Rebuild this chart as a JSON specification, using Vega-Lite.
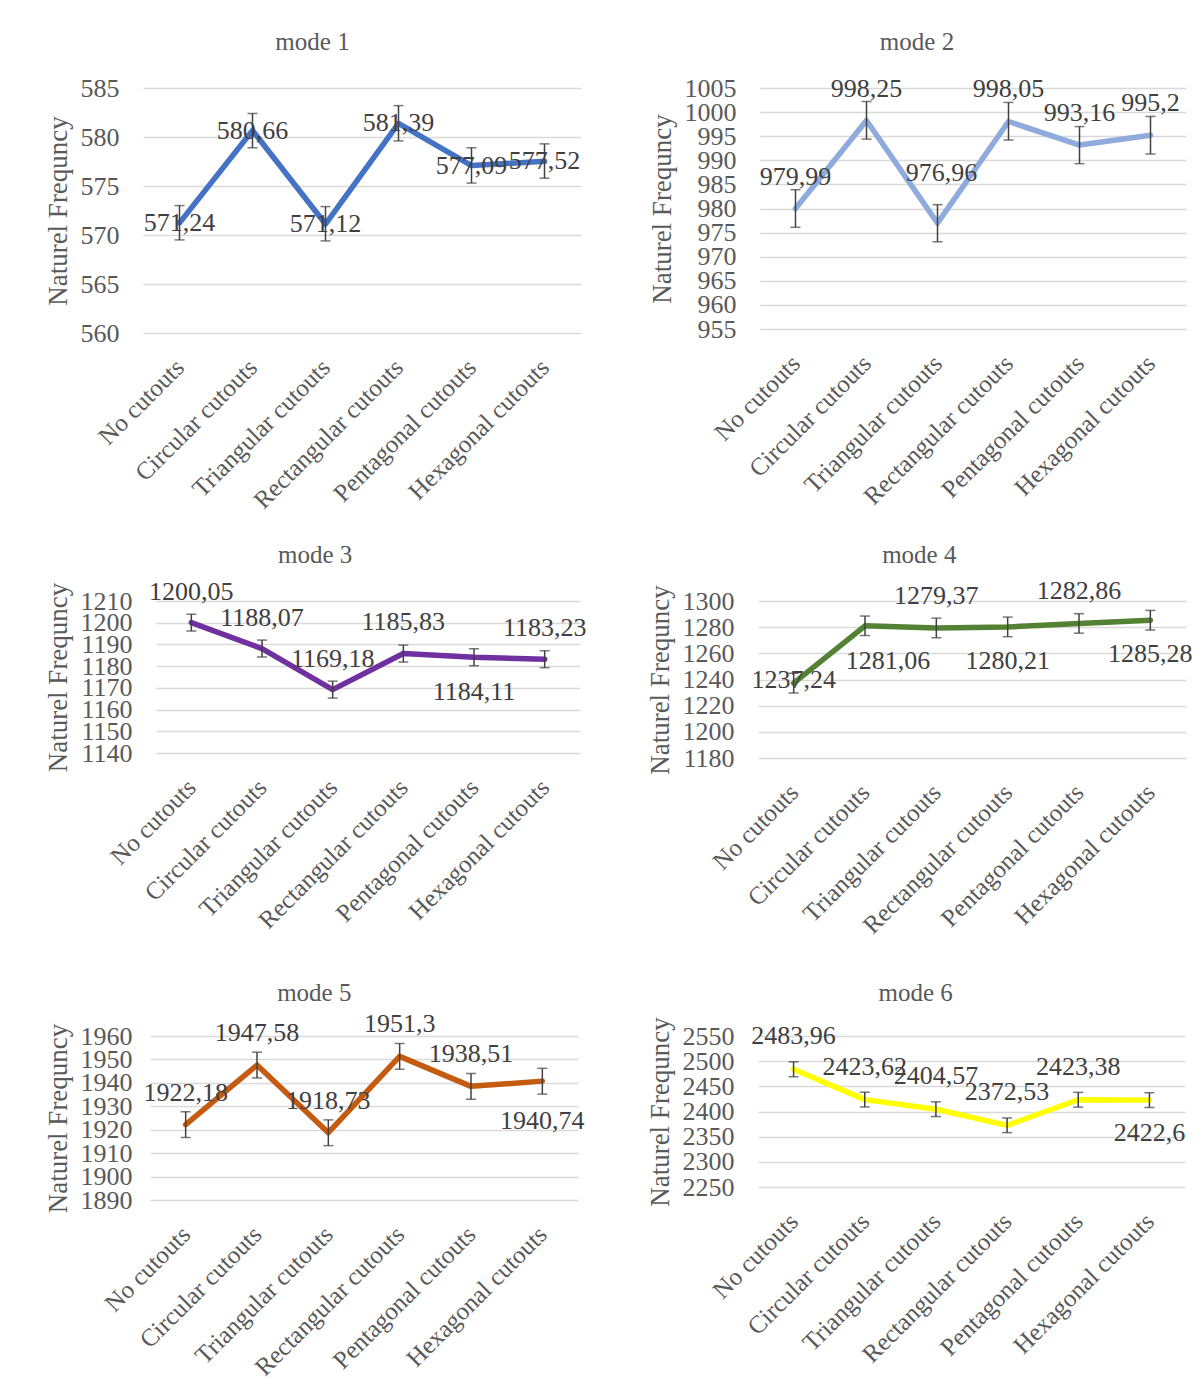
{
  "$schema": "https://vega.github.io/schema/vega-lite/v6.json",
  "background": "white",
  "padding": {"left": 43, "top": 30, "right": 5, "bottom": 5},
  "config": {
    "font": "Liberation Serif",
    "view": {"stroke": null},
    "locale": {"number": {"decimal": ",", "thousands": ".", "grouping": [3], "currency": ["", ""]}},
    "axis": {"labelFont": "Liberation Serif", "titleFont": "Liberation Serif", "labelColor": "#595959", "titleColor": "#595959", "labelFontSize": 26, "titleFontSize": 27, "titleFontWeight": "normal", "domain": false, "ticks": false, "tickSize": 0, "gridColor": "#D9D9D9", "gridWidth": 1.5, "labelOverlap": false},
    "axisX": {"grid": false, "labelAngle": -45, "labelAlign": "right", "labelBaseline": "middle", "labelPadding": 30, "labelFontSize": 25, "labelLimit": 400, "title": null},
    "axisY": {"labelPadding": 24, "titlePadding": 8, "labelOverlap": false, "tickCount": 30},
    "title": {"font": "Liberation Serif", "fontSize": 25, "fontWeight": "normal", "color": "#595959", "baseline": "alphabetic", "offset": 20, "frame": "bounds", "anchor": "middle"},
    "text": {"font": "Liberation Serif", "fontSize": 26, "color": "#404040", "baseline": "middle"}
  },
  "data": {"values": [
    {"mode": 1, "shape": "No cutouts", "freq": 571.24, "lo": 569.5, "hi": 573.0},
    {"mode": 1, "shape": "Circular cutouts", "freq": 580.66, "lo": 578.9, "hi": 582.4},
    {"mode": 1, "shape": "Triangular cutouts", "freq": 571.12, "lo": 569.4, "hi": 572.9},
    {"mode": 1, "shape": "Rectangular cutouts", "freq": 581.39, "lo": 579.6, "hi": 583.2},
    {"mode": 1, "shape": "Pentagonal cutouts", "freq": 577.09, "lo": 575.3, "hi": 578.9},
    {"mode": 1, "shape": "Hexagonal cutouts", "freq": 577.52, "lo": 575.8, "hi": 579.3},
    {"mode": 2, "shape": "No cutouts", "freq": 979.99, "lo": 976.1, "hi": 983.9},
    {"mode": 2, "shape": "Circular cutouts", "freq": 998.25, "lo": 994.4, "hi": 1002.2},
    {"mode": 2, "shape": "Triangular cutouts", "freq": 976.96, "lo": 973.1, "hi": 980.8},
    {"mode": 2, "shape": "Rectangular cutouts", "freq": 998.05, "lo": 994.2, "hi": 1002.0},
    {"mode": 2, "shape": "Pentagonal cutouts", "freq": 993.16, "lo": 989.3, "hi": 997.0},
    {"mode": 2, "shape": "Hexagonal cutouts", "freq": 995.2, "lo": 991.3, "hi": 999.1},
    {"mode": 3, "shape": "No cutouts", "freq": 1200.05, "lo": 1196.2, "hi": 1203.9},
    {"mode": 3, "shape": "Circular cutouts", "freq": 1188.07, "lo": 1184.2, "hi": 1192.0},
    {"mode": 3, "shape": "Triangular cutouts", "freq": 1169.18, "lo": 1165.3, "hi": 1173.1},
    {"mode": 3, "shape": "Rectangular cutouts", "freq": 1185.83, "lo": 1181.9, "hi": 1189.7},
    {"mode": 3, "shape": "Pentagonal cutouts", "freq": 1184.11, "lo": 1180.2, "hi": 1188.0},
    {"mode": 3, "shape": "Hexagonal cutouts", "freq": 1183.23, "lo": 1179.3, "hi": 1187.1},
    {"mode": 4, "shape": "No cutouts", "freq": 1237.24, "lo": 1229.7, "hi": 1244.8},
    {"mode": 4, "shape": "Circular cutouts", "freq": 1281.06, "lo": 1273.6, "hi": 1288.5},
    {"mode": 4, "shape": "Triangular cutouts", "freq": 1279.37, "lo": 1271.9, "hi": 1286.9},
    {"mode": 4, "shape": "Rectangular cutouts", "freq": 1280.21, "lo": 1272.7, "hi": 1287.7},
    {"mode": 4, "shape": "Pentagonal cutouts", "freq": 1282.86, "lo": 1275.4, "hi": 1290.3},
    {"mode": 4, "shape": "Hexagonal cutouts", "freq": 1285.28, "lo": 1277.8, "hi": 1292.8},
    {"mode": 5, "shape": "No cutouts", "freq": 1922.18, "lo": 1916.7, "hi": 1927.7},
    {"mode": 5, "shape": "Circular cutouts", "freq": 1947.58, "lo": 1942.1, "hi": 1953.1},
    {"mode": 5, "shape": "Triangular cutouts", "freq": 1918.73, "lo": 1913.2, "hi": 1924.2},
    {"mode": 5, "shape": "Rectangular cutouts", "freq": 1951.3, "lo": 1945.8, "hi": 1956.8},
    {"mode": 5, "shape": "Pentagonal cutouts", "freq": 1938.51, "lo": 1933.0, "hi": 1944.0},
    {"mode": 5, "shape": "Hexagonal cutouts", "freq": 1940.74, "lo": 1935.2, "hi": 1946.2},
    {"mode": 6, "shape": "No cutouts", "freq": 2483.96, "lo": 2469.0, "hi": 2499.0},
    {"mode": 6, "shape": "Circular cutouts", "freq": 2423.62, "lo": 2409.0, "hi": 2438.3},
    {"mode": 6, "shape": "Triangular cutouts", "freq": 2404.57, "lo": 2390.0, "hi": 2419.2},
    {"mode": 6, "shape": "Rectangular cutouts", "freq": 2372.53, "lo": 2358.0, "hi": 2387.2},
    {"mode": 6, "shape": "Pentagonal cutouts", "freq": 2423.38, "lo": 2408.7, "hi": 2438.0},
    {"mode": 6, "shape": "Hexagonal cutouts", "freq": 2422.6, "lo": 2408.0, "hi": 2437.3}
  ]},
  "columns": 1,
  "align": "none",
  "spacing": 28,
  "concat": [
    {
      "spacing": 0,
      "hconcat": [
        {"width": 1, "height": 1, "data": {"values": []}, "mark": {"type": "point", "opacity": 0}},
        {
          "spacing": 67,
          "hconcat": [
            {
              "width": 438, "height": 245,
              "title": {"text": "mode 1", "offset": 20},
              "transform": [{"filter": "datum.mode == 1"}],
              "encoding": {"x": {"field": "shape", "type": "nominal", "sort": null, "scale": {"type": "point", "padding": 0.5}}},
              "layer": [
                {"mark": {"type": "line", "color": "#4472C4", "strokeWidth": 5.5, "strokeJoin": "round", "strokeCap": "round"},
                 "encoding": {"y": {"field": "freq", "type": "quantitative", "title": "Naturel Frequncy", "scale": {"domain": [560, 585], "nice": false, "zero": false}, "axis": {"values": [560, 565, 570, 575, 580, 585], "format": "d", "labelOverlap": false, "tickCount": 30}}}},
                {"mark": {"type": "rule", "color": "#404040", "strokeWidth": 1.5}, "encoding": {"y": {"field": "lo", "type": "quantitative", "title": "Naturel Frequncy"}, "y2": {"field": "hi"}}},
                {"mark": {"type": "tick", "color": "#404040", "size": 10, "thickness": 1.5}, "encoding": {"y": {"field": "lo", "type": "quantitative", "title": "Naturel Frequncy"}}},
                {"mark": {"type": "tick", "color": "#404040", "size": 10, "thickness": 1.5}, "encoding": {"y": {"field": "hi", "type": "quantitative", "title": "Naturel Frequncy"}}},
                {"mark": {"type": "text"}, "encoding": {"y": {"field": "freq", "type": "quantitative", "title": "Naturel Frequncy"}, "text": {"field": "freq", "type": "quantitative", "format": "~f"}}}
              ]
            },
            {
              "width": 426, "height": 241,
              "title": {"text": "mode 2", "offset": 20},
              "transform": [{"filter": "datum.mode == 2"}],
              "encoding": {"x": {"field": "shape", "type": "nominal", "sort": null, "scale": {"type": "point", "padding": 0.5}}},
              "layer": [
                {"mark": {"type": "line", "color": "#8FAADC", "strokeWidth": 5.5, "strokeJoin": "round", "strokeCap": "round"},
                 "encoding": {"y": {"field": "freq", "type": "quantitative", "title": "Naturel Frequncy", "scale": {"domain": [955, 1005], "nice": false, "zero": false}, "axis": {"values": [955, 960, 965, 970, 975, 980, 985, 990, 995, 1000, 1005], "format": "d", "labelOverlap": false, "tickCount": 30}}}},
                {"mark": {"type": "rule", "color": "#404040", "strokeWidth": 1.5}, "encoding": {"y": {"field": "lo", "type": "quantitative", "title": "Naturel Frequncy"}, "y2": {"field": "hi"}}},
                {"mark": {"type": "tick", "color": "#404040", "size": 10, "thickness": 1.5}, "encoding": {"y": {"field": "lo", "type": "quantitative", "title": "Naturel Frequncy"}}},
                {"mark": {"type": "tick", "color": "#404040", "size": 10, "thickness": 1.5}, "encoding": {"y": {"field": "hi", "type": "quantitative", "title": "Naturel Frequncy"}}},
                {"transform": [{"filter": "datum.shape != 'Triangular cutouts'"}], "mark": {"type": "text", "dy": -32}, "encoding": {"y": {"field": "freq", "type": "quantitative", "title": "Naturel Frequncy"}, "text": {"field": "freq", "type": "quantitative", "format": "~f"}}},
                {"transform": [{"filter": "datum.shape == 'Triangular cutouts'"}], "mark": {"type": "text", "dy": -50, "dx": 4}, "encoding": {"y": {"field": "freq", "type": "quantitative", "title": "Naturel Frequncy"}, "text": {"field": "freq", "type": "quantitative", "format": "~f"}}}
              ]
            }
          ]
        }
      ]
    },
    {
      "columns": 1,
      "align": "none",
      "spacing": 41,
      "concat": [
        {
          "spacing": 0,
          "hconcat": [
            {"width": 1, "height": 1, "data": {"values": []}, "mark": {"type": "point", "opacity": 0}},
            {
              "spacing": 59,
              "hconcat": [
                {
                  "width": 424, "height": 152,
                  "title": {"text": "mode 3", "offset": 11},
                  "transform": [{"filter": "datum.mode == 3"}],
                  "encoding": {"x": {"field": "shape", "type": "nominal", "sort": null, "scale": {"type": "point", "padding": 0.5}}},
                  "layer": [
                    {"mark": {"type": "line", "color": "#7030A0", "strokeWidth": 5.5, "strokeJoin": "round", "strokeCap": "round"},
                     "encoding": {"y": {"field": "freq", "type": "quantitative", "title": "Naturel Frequncy", "scale": {"domain": [1140, 1210], "nice": false, "zero": false}, "axis": {"values": [1140, 1150, 1160, 1170, 1180, 1190, 1200, 1210], "format": "d", "labelOverlap": false, "tickCount": 30}}}},
                    {"mark": {"type": "rule", "color": "#404040", "strokeWidth": 1.5}, "encoding": {"y": {"field": "lo", "type": "quantitative", "title": "Naturel Frequncy"}, "y2": {"field": "hi"}}},
                    {"mark": {"type": "tick", "color": "#404040", "size": 10, "thickness": 1.5}, "encoding": {"y": {"field": "lo", "type": "quantitative", "title": "Naturel Frequncy"}}},
                    {"mark": {"type": "tick", "color": "#404040", "size": 10, "thickness": 1.5}, "encoding": {"y": {"field": "hi", "type": "quantitative", "title": "Naturel Frequncy"}}},
                    {"transform": [{"filter": "datum.shape != 'Pentagonal cutouts'"}], "mark": {"type": "text", "dy": -31}, "encoding": {"y": {"field": "freq", "type": "quantitative", "title": "Naturel Frequncy"}, "text": {"field": "freq", "type": "quantitative", "format": "~f"}}},
                    {"transform": [{"filter": "datum.shape == 'Pentagonal cutouts'"}], "mark": {"type": "text", "dy": 35}, "encoding": {"y": {"field": "freq", "type": "quantitative", "title": "Naturel Frequncy"}, "text": {"field": "freq", "type": "quantitative", "format": "~f"}}}
                  ]
                },
                {
                  "width": 428, "height": 157,
                  "title": {"text": "mode 4", "offset": 10},
                  "transform": [{"filter": "datum.mode == 4"}],
                  "encoding": {"x": {"field": "shape", "type": "nominal", "sort": null, "scale": {"type": "point", "padding": 0.5}}},
                  "layer": [
                    {"mark": {"type": "line", "color": "#548235", "strokeWidth": 5.5, "strokeJoin": "round", "strokeCap": "round"},
                     "encoding": {"y": {"field": "freq", "type": "quantitative", "title": "Naturel Frequncy", "scale": {"domain": [1180, 1300], "nice": false, "zero": false}, "axis": {"values": [1180, 1200, 1220, 1240, 1260, 1280, 1300], "format": "d", "labelOverlap": false, "tickCount": 30}}}},
                    {"mark": {"type": "rule", "color": "#404040", "strokeWidth": 1.5}, "encoding": {"y": {"field": "lo", "type": "quantitative", "title": "Naturel Frequncy"}, "y2": {"field": "hi"}}},
                    {"mark": {"type": "tick", "color": "#404040", "size": 10, "thickness": 1.5}, "encoding": {"y": {"field": "lo", "type": "quantitative", "title": "Naturel Frequncy"}}},
                    {"mark": {"type": "tick", "color": "#404040", "size": 10, "thickness": 1.5}, "encoding": {"y": {"field": "hi", "type": "quantitative", "title": "Naturel Frequncy"}}},
                    {"transform": [{"filter": "datum.shape == 'No cutouts'"}], "mark": {"type": "text", "dy": -3}, "encoding": {"y": {"field": "freq", "type": "quantitative", "title": "Naturel Frequncy"}, "text": {"field": "freq", "type": "quantitative", "format": "~f"}}},
                    {"transform": [{"filter": "datum.shape == 'Circular cutouts'"}], "mark": {"type": "text", "dy": 35, "dx": 23}, "encoding": {"y": {"field": "freq", "type": "quantitative", "title": "Naturel Frequncy"}, "text": {"field": "freq", "type": "quantitative", "format": "~f"}}},
                    {"transform": [{"filter": "datum.shape == 'Triangular cutouts' || datum.shape == 'Pentagonal cutouts'"}], "mark": {"type": "text", "dy": -32}, "encoding": {"y": {"field": "freq", "type": "quantitative", "title": "Naturel Frequncy"}, "text": {"field": "freq", "type": "quantitative", "format": "~f"}}},
                    {"transform": [{"filter": "datum.shape == 'Rectangular cutouts' || datum.shape == 'Hexagonal cutouts'"}], "mark": {"type": "text", "dy": 34}, "encoding": {"y": {"field": "freq", "type": "quantitative", "title": "Naturel Frequncy"}, "text": {"field": "freq", "type": "quantitative", "format": "~f"}}}
                  ]
                }
              ]
            }
          ]
        },
        {
          "spacing": 0,
          "hconcat": [
            {"width": 1, "height": 1, "data": {"values": []}, "mark": {"type": "point", "opacity": 0}},
            {
              "spacing": 61,
              "hconcat": [
                {
                  "width": 428, "height": 164,
                  "title": {"text": "mode 5", "offset": 5.4},
                  "transform": [{"filter": "datum.mode == 5"}],
                  "encoding": {"x": {"field": "shape", "type": "nominal", "sort": null, "scale": {"type": "point", "padding": 0.5}}},
                  "layer": [
                    {"mark": {"type": "line", "color": "#C55A11", "strokeWidth": 5.5, "strokeJoin": "round", "strokeCap": "round"},
                     "encoding": {"y": {"field": "freq", "type": "quantitative", "title": "Naturel Frequncy", "scale": {"domain": [1890, 1960], "nice": false, "zero": false}, "axis": {"values": [1890, 1900, 1910, 1920, 1930, 1940, 1950, 1960], "format": "d", "labelPadding": 18, "labelOverlap": false, "tickCount": 30}}}},
                    {"mark": {"type": "rule", "color": "#404040", "strokeWidth": 1.5}, "encoding": {"y": {"field": "lo", "type": "quantitative", "title": "Naturel Frequncy"}, "y2": {"field": "hi"}}},
                    {"mark": {"type": "tick", "color": "#404040", "size": 10, "thickness": 1.5}, "encoding": {"y": {"field": "lo", "type": "quantitative", "title": "Naturel Frequncy"}}},
                    {"mark": {"type": "tick", "color": "#404040", "size": 10, "thickness": 1.5}, "encoding": {"y": {"field": "hi", "type": "quantitative", "title": "Naturel Frequncy"}}},
                    {"transform": [{"filter": "datum.shape != 'Hexagonal cutouts'"}], "mark": {"type": "text", "dy": -32}, "encoding": {"y": {"field": "freq", "type": "quantitative", "title": "Naturel Frequncy"}, "text": {"field": "freq", "type": "quantitative", "format": "~f"}}},
                    {"transform": [{"filter": "datum.shape == 'Hexagonal cutouts'"}], "mark": {"type": "text", "dy": 40}, "encoding": {"y": {"field": "freq", "type": "quantitative", "title": "Naturel Frequncy"}, "text": {"field": "freq", "type": "quantitative", "format": "~f"}}}
                  ]
                },
                {
                  "width": 427, "height": 151,
                  "title": {"text": "mode 6", "offset": 10.4},
                  "transform": [{"filter": "datum.mode == 6"}],
                  "encoding": {"x": {"field": "shape", "type": "nominal", "sort": null, "scale": {"type": "point", "padding": 0.5}}},
                  "layer": [
                    {"mark": {"type": "line", "color": "#FFFF00", "strokeWidth": 5.5, "strokeJoin": "round", "strokeCap": "round"},
                     "encoding": {"y": {"field": "freq", "type": "quantitative", "title": "Naturel Frequncy", "scale": {"domain": [2250, 2550], "nice": false, "zero": false}, "axis": {"values": [2250, 2300, 2350, 2400, 2450, 2500, 2550], "format": "d", "labelOverlap": false, "tickCount": 30}}}},
                    {"mark": {"type": "rule", "color": "#404040", "strokeWidth": 1.5}, "encoding": {"y": {"field": "lo", "type": "quantitative", "title": "Naturel Frequncy"}, "y2": {"field": "hi"}}},
                    {"mark": {"type": "tick", "color": "#404040", "size": 10, "thickness": 1.5}, "encoding": {"y": {"field": "lo", "type": "quantitative", "title": "Naturel Frequncy"}}},
                    {"mark": {"type": "tick", "color": "#404040", "size": 10, "thickness": 1.5}, "encoding": {"y": {"field": "hi", "type": "quantitative", "title": "Naturel Frequncy"}}},
                    {"transform": [{"filter": "datum.shape != 'Hexagonal cutouts'"}], "mark": {"type": "text", "dy": -33}, "encoding": {"y": {"field": "freq", "type": "quantitative", "title": "Naturel Frequncy"}, "text": {"field": "freq", "type": "quantitative", "format": "~f"}}},
                    {"transform": [{"filter": "datum.shape == 'Hexagonal cutouts'"}], "mark": {"type": "text", "dy": 33}, "encoding": {"y": {"field": "freq", "type": "quantitative", "title": "Naturel Frequncy"}, "text": {"field": "freq", "type": "quantitative", "format": "~f"}}}
                  ]
                }
              ]
            }
          ]
        }
      ]
    }
  ]
}
